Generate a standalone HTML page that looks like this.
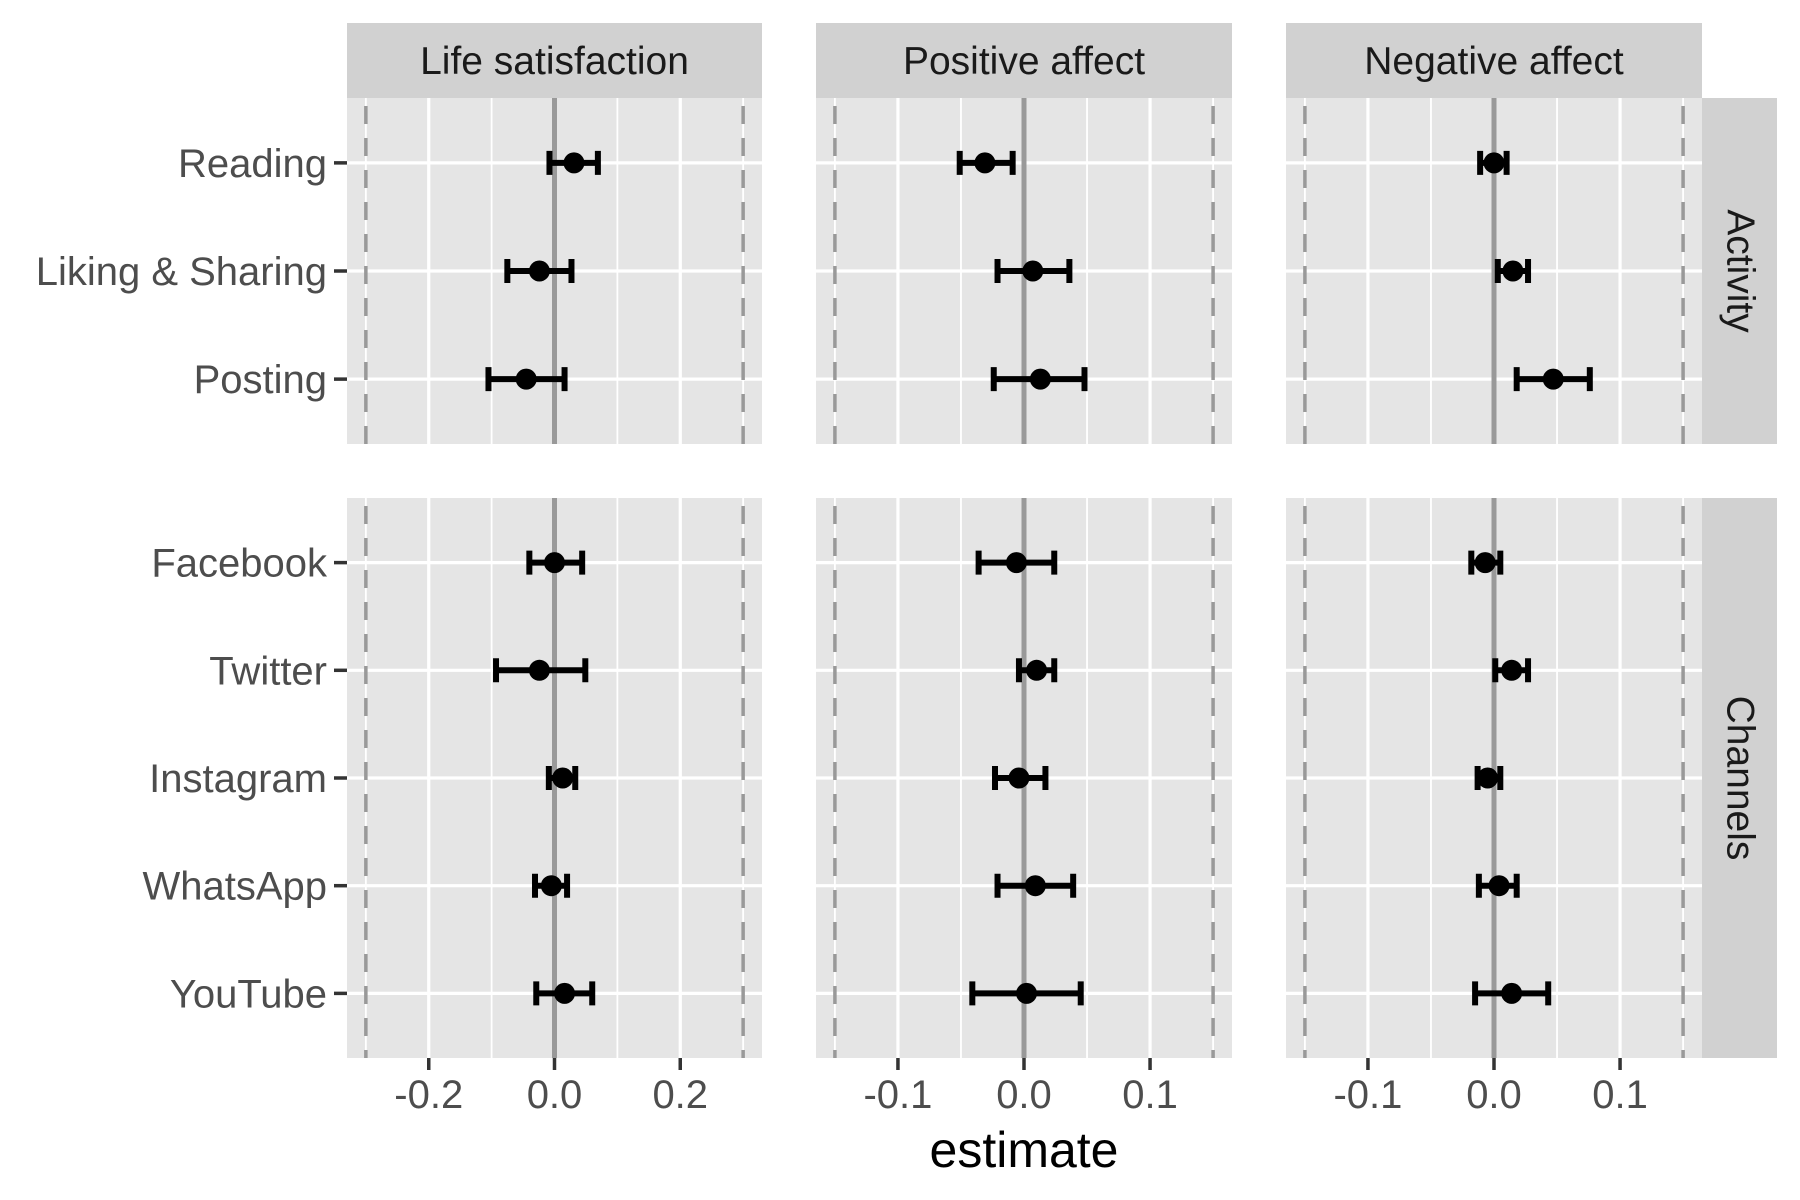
<!DOCTYPE html>
<html><head><meta charset="utf-8">
<style>
html,body{margin:0;padding:0;background:#fff;}
svg{display:block;font-family:"Liberation Sans",Arial,sans-serif;}
</style></head>
<body>
<svg id="chart" width="1800" height="1200" viewBox="0 0 1800 1200" xmlns="http://www.w3.org/2000/svg"></svg>
<script>
const outcomes = ["Life satisfaction","Positive affect","Negative affect"];
const groups = ["Activity","Channels"];
const activityCats = ["Reading","Liking & Sharing","Posting"];
const channelCats = ["Facebook","Twitter","Instagram","WhatsApp","YouTube"];
const lifeActEst = [0.031,-0.024,-0.045];
const lifeActLo  = [-0.008,-0.075,-0.105];
const lifeActHi  = [0.069,0.027,0.016];
const lifeChEst = [0.0,-0.024,0.013,-0.005,0.016];
const lifeChLo  = [-0.040,-0.093,-0.009,-0.031,-0.029];
const lifeChHi  = [0.044,0.049,0.033,0.020,0.060];
const posActEst = [-0.031,0.007,0.013];
const posActLo  = [-0.051,-0.021,-0.024];
const posActHi  = [-0.009,0.036,0.048];
const posChEst = [-0.006,0.010,-0.004,0.009,0.002];
const posChLo  = [-0.036,-0.004,-0.023,-0.021,-0.041];
const posChHi  = [0.024,0.024,0.017,0.039,0.045];
const negActEst = [0.0,0.015,0.047];
const negActLo  = [-0.011,0.003,0.018];
const negActHi  = [0.010,0.027,0.076];
const negChEst = [-0.007,0.014,-0.005,0.004,0.014];
const negChLo  = [-0.018,0.001,-0.013,-0.012,-0.015];
const negChHi  = [0.005,0.027,0.005,0.018,0.043];
const lifeTicks = [-0.2,0.0,0.2];
const affTicks = [-0.1,0.0,0.1];
const lifeThreshold = 0.3;
const affThreshold = 0.15;

const NS="http://www.w3.org/2000/svg";
const svg=document.getElementById('chart');
function mk(tag,attrs,parent){const e=document.createElementNS(NS,tag);for(const k in attrs)e.setAttribute(k,attrs[k]);(parent||svg).appendChild(e);return e;}

const panelX=[[347,762],[816,1232],[1286,1702]];
const rowY=[[98,444],[498,1058]];
const halfRange=[0.33,0.165,0.165];
const tickSets=[lifeTicks,affTicks,affTicks];
const thresholds=[lifeThreshold,affThreshold,affThreshold];
const gridStep=[0.1,0.05,0.05];
const data=[
 [[lifeActEst,lifeActLo,lifeActHi],[lifeChEst,lifeChLo,lifeChHi]],
 [[posActEst,posActLo,posActHi],[posChEst,posChLo,posChHi]],
 [[negActEst,negActLo,negActHi],[negChEst,negChLo,negChHi]]
];
const cats=[activityCats,channelCats];

for(let c=0;c<3;c++){
  const [x0,x1]=panelX[c];
  const xs=v=>(x0+x1)/2+v/halfRange[c]*((x1-x0)/2);
  const st=mk('rect',{x:x0,y:23,width:x1-x0,height:75,fill:'#d1d1d1'});
  
  
  const tt=mk('text',{x:(x0+x1)/2,y:74,'text-anchor':'middle','font-size':39,fill:'#1a1a1a'});
  tt.textContent=outcomes[c];
  
  
  for(let r=0;r<2;r++){
    const [y0,y1]=rowY[r];
    const n=cats[r].length;
    const step=(y1-y0)/(n-1+1.2);
    const ys=i=>y0+step*(0.6+i);
    const g=mk('g',{});
    
    
    mk('rect',{x:x0,y:y0,width:x1-x0,height:y1-y0,fill:'#e5e5e5'},g);
    const gs=gridStep[c];
    for(let k=-10;k<=10;k++){
      const v=k*gs;
      if(Math.abs(v)>halfRange[c])continue;
      const major=tickSets[c].some(t=>Math.abs(t-v)<1e-9);
      mk('line',{x1:xs(v),x2:xs(v),y1:y0,y2:y1,stroke:'#fff','stroke-width':major?3.2:1.8},g);
    }
    for(let i=0;i<n;i++) mk('line',{x1:x0,x2:x1,y1:ys(i),y2:ys(i),stroke:'#fff','stroke-width':3.2},g);
    mk('line',{x1:xs(0),x2:xs(0),y1:y0,y2:y1,stroke:'#999','stroke-width':5},g);
    [-thresholds[c],thresholds[c]].forEach(t=>mk('line',{x1:xs(t),x2:xs(t),y1:y0+8,y2:y1,stroke:'#999','stroke-width':3.5,'stroke-dasharray':'18 14'},g));
    const [est,lo,hi]=data[c][r];
    for(let i=0;i<n;i++){
      const y=ys(i);
      const eb=mk('path',{d:`M${xs(lo[i])},${y}H${xs(hi[i])}M${xs(lo[i])},${y-12}V${y+12}M${xs(hi[i])},${y-12}V${y+12}`,stroke:'#000','stroke-width':6,fill:'none'},g);
      
      
      const pt=mk('circle',{cx:xs(est[i]),cy:y,r:10.5,fill:'#000'},g);
      
      
      if(c===0){
        mk('line',{x1:334,x2:347,y1:y,y2:y,stroke:'#333','stroke-width':3.5},g);
        const lb=mk('text',{x:327,y:y+14,'text-anchor':'end','font-size':40,fill:'#4d4d4d'});
        lb.textContent=cats[r][i];
        
        
      }
    }
    if(c===2){
      const rs=mk('rect',{x:1702,y:y0,width:75,height:y1-y0,fill:'#d1d1d1'});
      
      
      const cy=(y0+y1)/2;
      const rt=mk('text',{x:1740,y:cy,'text-anchor':'middle','dominant-baseline':'central','font-size':39,fill:'#1a1a1a',transform:`rotate(90 1740 ${cy})`});
      rt.textContent=groups[r];
      
      
    }
  }
  tickSets[c].forEach(t=>{
    mk('line',{x1:xs(t),x2:xs(t),y1:1058,y2:1070,stroke:'#333','stroke-width':3.5});
    const tl=mk('text',{x:xs(t),y:1108,'text-anchor':'middle','font-size':40,fill:'#4d4d4d'});
    tl.textContent=t.toFixed(1);
    
    
  });
}
const xt=mk('text',{x:1024,y:1167,'text-anchor':'middle','font-size':50,fill:'#000'});
xt.textContent='estimate';


</script>
</body></html>
